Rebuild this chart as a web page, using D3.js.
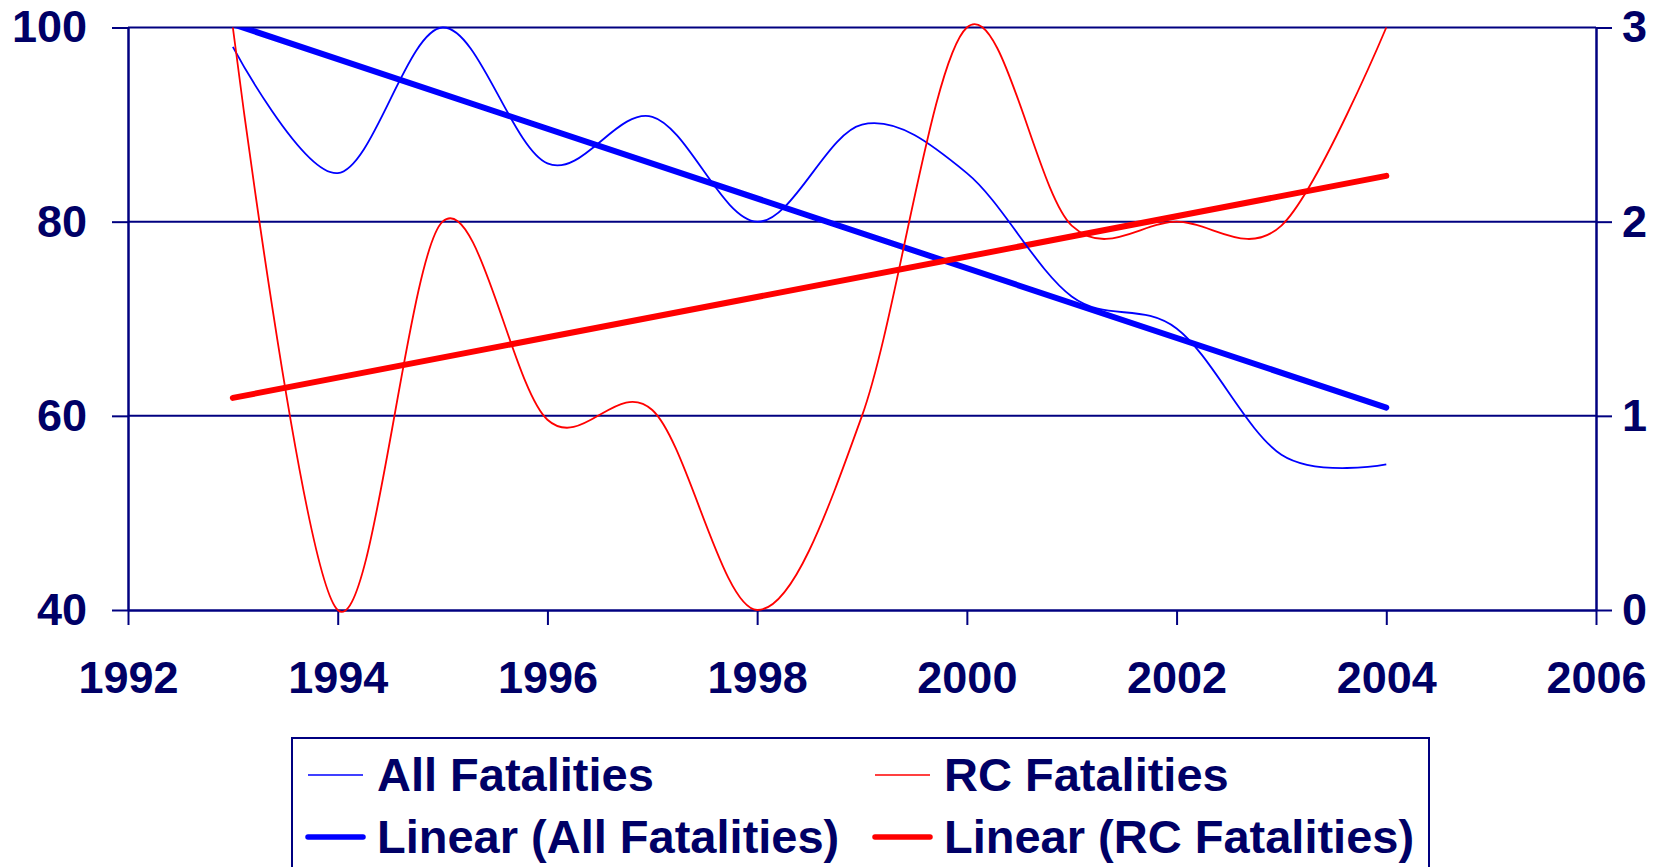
<!DOCTYPE html>
<html>
<head>
<meta charset="utf-8">
<script src="https://cdnjs.cloudflare.com/ajax/libs/d3/7.8.5/d3.min.js"></script>
<style>
	body { margin: 0; background: #fff; }
	svg text { font-family: "Liberation Sans", Arial, sans-serif; font-weight: bold; fill: #000066; }
</style>
</head>
<body>
<svg id="chart" width="1674" height="867"></svg>
<script>
// yearly values
var years = [1993, 1994, 1995, 1996, 1997, 1998, 1999, 2000, 2001, 2002, 2003, 2004];
var allFatalities = [98, 85, 100, 86, 90.8, 80, 90, 85, 72.3, 69, 56, 55];
var rcFatalities = [3, 0, 2, 0.98, 1.03, 0, 1, 3, 1.98, 2, 1.98, 3];

var xTicks = [1992, 1994, 1996, 1998, 2000, 2002, 2004, 2006];
var leftTicks = [40, 60, 80, 100];
var rightTicks = [0, 1, 2, 3];
var legendLabels = ["All Fatalities", "RC Fatalities", "Linear (All Fatalities)", "Linear (RC Fatalities)"];

var NAVY = "#000080";
var BLUE = "#0000ff";
var RED = "#ff0000";

var svg = d3.select("#chart");

var x = d3.scaleLinear().domain([1992, 2006]).range([128, 1596]);
var yLeft = d3.scaleLinear().domain([40, 100]).range([610, 27.5]);
var yRight = d3.scaleLinear().domain([0, 3]).range([610, 27.5]);

// least squares fit, same as Excel's linear trendline
function linearFit(xs, ys) {
	var mx = d3.mean(xs), my = d3.mean(ys);
	var num = 0, den = 0;
	for (var i = 0; i < xs.length; i++) {
		num += (xs[i] - mx) * (ys[i] - my);
		den += (xs[i] - mx) * (xs[i] - mx);
	}
	var slope = num / den;
	return function (v) { return my + slope * (v - mx); };
}

// gridlines
svg.append("g").selectAll("line")
	.data(leftTicks.slice(1))
	.enter().append("line")
	.attr("x1", x.range()[0]).attr("x2", x.range()[1])
	.attr("y1", function (d) { return yLeft(d); })
	.attr("y2", function (d) { return yLeft(d); })
	.attr("stroke", NAVY).attr("stroke-width", 2);

// axes
function styleAxis(g) {
	g.select(".domain").attr("stroke", NAVY).attr("stroke-width", 2.5);
	g.selectAll(".tick line").attr("stroke", NAVY).attr("stroke-width", 2);
	g.selectAll(".tick text").style("font-size", "45px").attr("fill", "#000066");
}

svg.append("g")
	.attr("transform", "translate(0,610)")
	.call(d3.axisBottom(x).tickValues(xTicks).tickSize(15).tickSizeOuter(0).tickFormat(d3.format("d")))
	.call(styleAxis)
	.call(function (g) { g.selectAll(".tick text").attr("y", 83).attr("dy", 0); });

svg.append("g")
	.attr("transform", "translate(128,0)")
	.call(d3.axisLeft(yLeft).tickValues(leftTicks).tickSize(16).tickSizeOuter(0).tickPadding(25))
	.call(styleAxis);

svg.append("g")
	.attr("transform", "translate(1596,0)")
	.call(d3.axisRight(yRight).tickValues(rightTicks).tickSize(16).tickSizeOuter(0).tickPadding(10).tickFormat(d3.format("d")))
	.call(styleAxis);

// series
svg.append("clipPath").attr("id", "plot-clip")
	.append("rect")
	.attr("x", 128).attr("y", 27.5).attr("width", 1468).attr("height", 582.5);

var plot = svg.append("g").attr("clip-path", "url(#plot-clip)");

var smooth = d3.curveCardinal.tension(0);

var allLine = d3.line()
	.x(function (d, i) { return x(years[i]); })
	.y(function (d) { return yLeft(d); })
	.curve(smooth);

var rcLine = d3.line()
	.x(function (d, i) { return x(years[i]); })
	.y(function (d) { return yRight(d); })
	.curve(smooth);

var allFit = linearFit(years, allFatalities);
var rcFit = linearFit(years, rcFatalities);
var ends = [years[0], years[years.length - 1]];

plot.append("path")
	.attr("d", d3.line().x(function (d) { return x(d); }).y(function (d) { return yLeft(allFit(d)); })(ends))
	.attr("fill", "none").attr("stroke", BLUE).attr("stroke-width", 6).attr("stroke-linecap", "round");

plot.append("path")
	.attr("d", d3.line().x(function (d) { return x(d); }).y(function (d) { return yRight(rcFit(d)); })(ends))
	.attr("fill", "none").attr("stroke", RED).attr("stroke-width", 6).attr("stroke-linecap", "round");

svg.append("path")
	.attr("d", allLine(allFatalities))
	.attr("fill", "none").attr("stroke", BLUE).attr("stroke-width", 1.8);

svg.append("path")
	.attr("d", rcLine(rcFatalities))
	.attr("fill", "none").attr("stroke", RED).attr("stroke-width", 1.8);

// legend
var legend = svg.append("g");
legend.append("rect")
	.attr("x", 292).attr("y", 738).attr("width", 1137).attr("height", 160)
	.attr("fill", "#fff").attr("stroke", NAVY).attr("stroke-width", 2);

var legendItems = [
	{ label: legendLabels[0], color: BLUE, width: 1.6, col: 0, row: 0 },
	{ label: legendLabels[1], color: RED, width: 1.6, col: 1, row: 0 },
	{ label: legendLabels[2], color: BLUE, width: 5.5, col: 0, row: 1 },
	{ label: legendLabels[3], color: RED, width: 5.5, col: 1, row: 1 }
];
var colX = [308, 875];
var rowY = [775, 837];

legendItems.forEach(function (item) {
	var lx = colX[item.col], ly = rowY[item.row];
	legend.append("line")
		.attr("x1", lx).attr("x2", lx + 55)
		.attr("y1", ly).attr("y2", ly)
		.attr("stroke", item.color).attr("stroke-width", item.width)
		.attr("stroke-linecap", item.width > 3 ? "round" : "butt");
	legend.append("text")
		.attr("x", lx + 69).attr("y", ly + 16)
		.style("font-size", "47px")
		.text(item.label);
});
</script>
</body>
</html>
